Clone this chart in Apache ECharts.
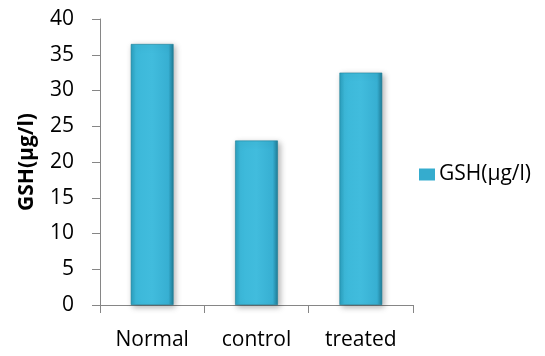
<!DOCTYPE html>
<html>
<head>
<meta charset="utf-8">
<script src="https://cdn.jsdelivr.net/npm/echarts@6/dist/echarts.min.js"></script>
<style>
  html, body { margin: 0; padding: 0; background: #ffffff; }
  #chart { width: 545px; height: 356px; }
</style>
</head>
<body>
<div id="chart"></div>
<script>
// Glutathione levels per group
var categories = ['Normal', 'control', 'treated'];
var gshValues = [36.5, 23, 32.5];
var seriesName = 'GSH(µg/l)';
var axisTitle = 'GSH(µg/l)';

var font = '"Open Sans", "Noto Sans", sans-serif';

// bevelled cyan fill for the bars
var barFill = new echarts.graphic.LinearGradient(0, 0, 1, 0, [
  { offset: 0, color: '#2a9fbd' },
  { offset: 0.12, color: '#3cb8d9' },
  { offset: 0.5, color: '#41bcdd' },
  { offset: 0.88, color: '#37afd2' },
  { offset: 1, color: '#1f7c96' }
]);

var chart = echarts.init(document.getElementById('chart'), null, { renderer: 'canvas' });

chart.setOption({
  animation: false,
  backgroundColor: '#ffffff',
  grid: { left: 100, right: 132, top: 19, bottom: 51, containLabel: false },
  legend: {
    data: [{ name: seriesName, icon: 'rect', itemStyle: { color: '#35acce', borderWidth: 0 } }],
    left: 414,
    top: 159,
    itemWidth: 16,
    itemHeight: 12,
    itemGap: 6,
    textStyle: { fontFamily: font, fontSize: 21, color: '#000000', padding: [0, 0, 0, -1] }
  },
  xAxis: {
    type: 'category',
    data: categories,
    boundaryGap: true,
    axisLine: { lineStyle: { color: '#868686', width: 1 } },
    axisTick: { show: true, alignWithLabel: false, length: 8, lineStyle: { color: '#868686' } },
    axisLabel: { fontFamily: font, fontSize: 21, color: '#000000', margin: 25 }
  },
  yAxis: {
    type: 'value',
    min: 0,
    max: 40,
    interval: 5,
    name: axisTitle,
    nameLocation: 'middle',
    nameGap: 62,
    nameTextStyle: { fontFamily: font, fontSize: 21, fontWeight: 'bold', color: '#000000' },
    axisLine: { show: true, lineStyle: { color: '#868686', width: 1 } },
    axisTick: { show: true, length: 8, lineStyle: { color: '#868686' } },
    axisLabel: { fontFamily: font, fontSize: 21, color: '#000000', margin: 26 },
    splitLine: { show: false }
  },
  series: [{
    name: seriesName,
    type: 'bar',
    data: gshValues,
    barWidth: '41%',
    itemStyle: {
      color: barFill,
      borderColor: '#1f7f99',
      borderWidth: 0.6,
      shadowColor: 'rgba(0,0,0,0.3)',
      shadowBlur: 6,
      shadowOffsetX: 2,
      shadowOffsetY: 2
    }
  }]
});
</script>
</body>
</html>
